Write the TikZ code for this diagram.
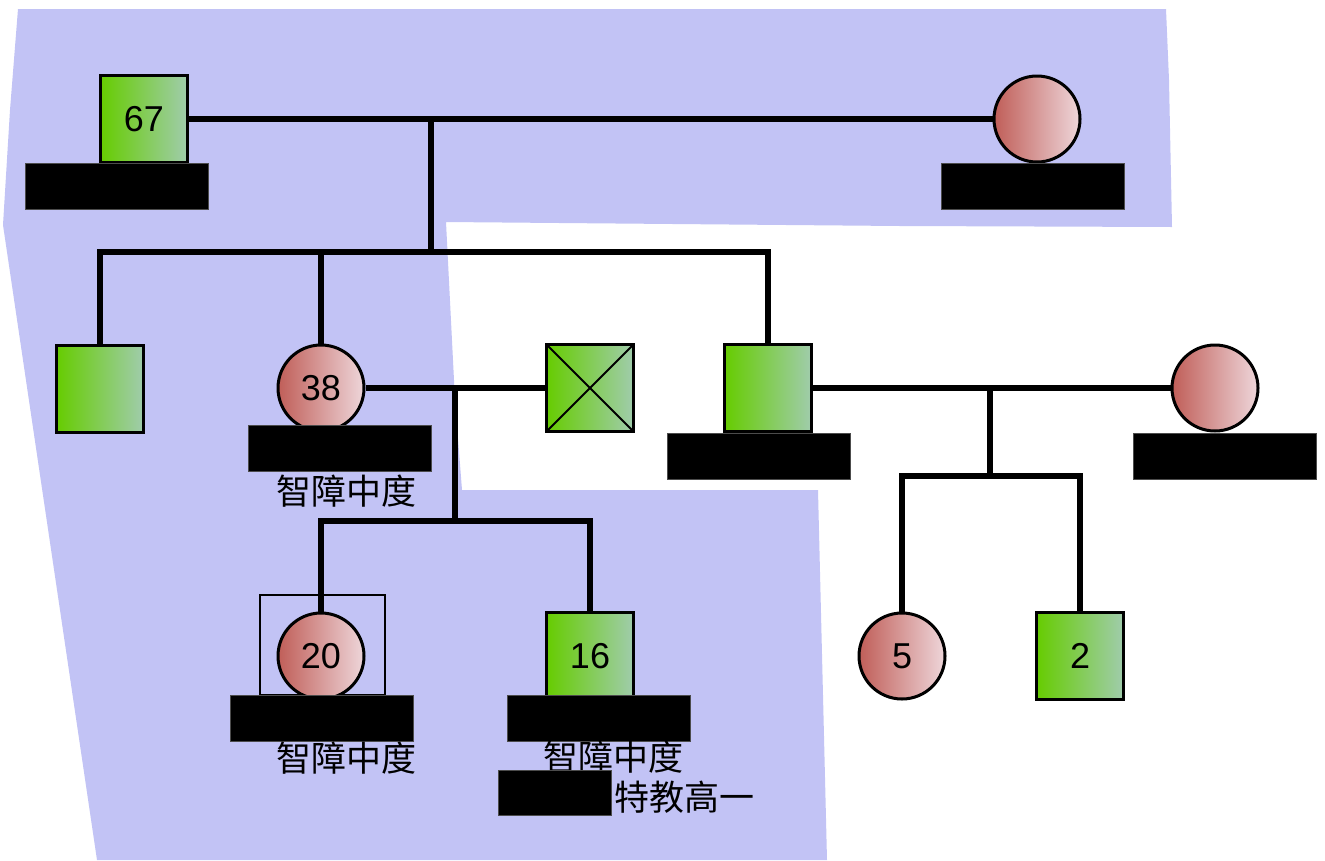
\documentclass[tikz,border=0pt]{standalone}
\usepackage{fontspec}
\setmainfont{Liberation Sans}
\newfontfamily\cjk{Noto Sans CJK SC}
\definecolor{bg}{RGB}{194,195,245}
\definecolor{gL}{RGB}{102,204,0}
\definecolor{gR}{RGB}{160,204,172}
\definecolor{pL}{RGB}{192,94,88}
\definecolor{pR}{RGB}{238,214,218}
\begin{document}
\begin{tikzpicture}[x=1pt,y=-1pt,
  male/.style={draw, line width=3.5pt, minimum size=87pt, inner sep=0pt, left color=gL, right color=gR, font=\fontsize{36}{36}\selectfont},
  female/.style={circle, draw, line width=3pt, minimum size=86pt, inner sep=0pt, left color=pL, right color=pR, font=\fontsize{36}{36}\selectfont},
  bar/.style={fill=black, draw=black!70, line width=0.5pt, minimum width=183pt, minimum height=46pt, inner sep=0pt},
  link/.style={line width=6pt},
  note/.style={font=\cjk\fontsize{35}{35}\selectfont, inner sep=0pt},
  crossed/.style={path picture={\draw[line width=2pt] (path picture bounding box.north west) -- (path picture bounding box.south east) (path picture bounding box.north east) -- (path picture bounding box.south west);}}
]
\useasboundingbox (0,0) rectangle (1325,860);
% background region
\fill[bg] (18,9) -- (1166,9) -- (1169,80) -- (1172,227) -- (900,226) -- (446,222) -- (455,400) -- (462,490) -- (818,490) -- (827,860) -- (97,860) -- (3,225) -- (10,110) -- cycle;
% frame round the index person
\node[draw, line width=2.5pt, minimum width=125pt, minimum height=100pt, inner sep=0pt] (gbox) at (322.5,645) {};
% persons
\node[male] (n67) at (144,119) {67};
\node[female] (w1) at (1037,119) {};
\node[male] (s1) at (100,389) {};
\node[female] (s2) at (321,388) {38};
\node[male, crossed] (x1) at (590,388) {};
\node[male] (s4) at (768,388) {};
\node[female] (w2) at (1215,388) {};
\node[female] (g1) at (321,656) {20};
\node[male] (g2) at (590,656) {16};
\node[female] (h1) at (902,656) {5};
\node[male] (h2) at (1080,656) {2};
% junctions
\coordinate (m1) at (431,119);
\coordinate (ch1) at (431,252);
\coordinate (m2) at (455,388);
\coordinate (ch2) at (455,521);
\coordinate (m3) at (990,388);
\coordinate (ch3) at (990,476);
% connectors
\draw[link] (n67.east) -- (w1.west);
\draw[link] (m1) -- (ch1);
\draw[link] (s1.north) |- (ch1) -| (s4.north);
\draw[link] (ch1) -| (s2.north);
\draw[link] (s2.east) -- (x1.west);
\draw[link] (m2) -- (ch2);
\draw[link] (g1.north) |- (ch2) -| (g2.north);
\draw[link] (s4.east) -- (w2.west);
\draw[link] (m3) -- (ch3);
\draw[link] (h1.north) |- (ch3) -| (h2.north);
% redaction bars
\node[bar] (b67) at (117,186.5) {};
\node[bar] (bw1) at (1032.5,186.5) {};
\node[bar] (b38) at (339.5,448) {};
\node[bar] (bs4) at (758.5,456) {};
\node[bar] (bw2) at (1224.5,456) {};
\node[bar] (b20) at (321.5,718) {};
\node[bar] (b16) at (599,718) {};
% notes
\node[note] (t38) at (346,491) {智障中度};
\node[note] (t20) at (346,758) {智障中度};
\node[note] (t16) at (613,757) {智障中度};
\node[note] (t16b) at (684,797) {特教高一};
\node[bar, minimum width=113pt, minimum height=45pt] (bx) at (554.5,792.5) {};
\end{tikzpicture}
\end{document}
